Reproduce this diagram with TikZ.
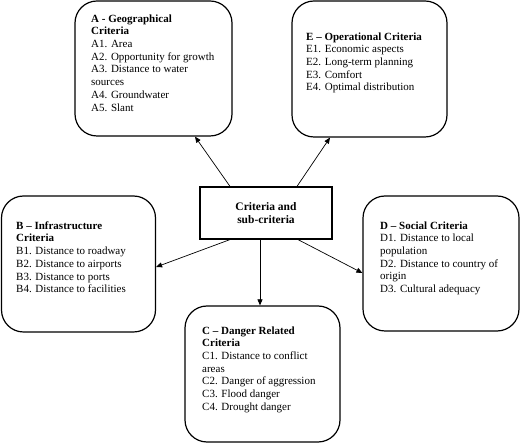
\documentclass[tikz,border=0pt]{standalone}
\usepackage{fontspec}
\setmainfont{Liberation Serif}
\usetikzlibrary{arrows.meta}
\begin{document}
\begin{tikzpicture}[x=1pt,y=-1pt,
 box/.style={draw, line width=1.2pt, rounded corners=22pt, inner sep=0pt},
 ctrbox/.style={draw, line width=1.2pt, inner sep=0pt, align=center, font=\fontsize{11.5}{13}\selectfont\bfseries},
 txt/.style={anchor=north west, align=left, inner sep=0pt, font=\fontsize{11}{12.7}\selectfont},
 conn/.style={line width=0.7pt, -{Triangle[length=6pt,width=5pt]}}]
\useasboundingbox (0,0) rectangle (520,443);
\node[box, minimum width=157pt, minimum height=135pt] (A) at (153.5,68.5) {};
\node[box, minimum width=155pt, minimum height=136pt] (E) at (369.5,69) {};
\node[box, minimum width=154pt, minimum height=136pt] (B) at (78.5,264) {};
\node[box, minimum width=156pt, minimum height=135pt] (D) at (441,263.5) {};
\node[box, minimum width=155pt, minimum height=136pt] (C) at (262.5,374) {};
\node[ctrbox, minimum width=132pt, minimum height=52pt] (ctr) at (266,213) {Criteria and\\sub-criteria};

\node[txt] (At) at (91,14.3) {\textbf{A - Geographical}\\\textbf{Criteria}\\A1. Area\\A2. Opportunity for growth\\A3. Distance to water\\sources\\A4. Groundwater\\A5. Slant};
\node[txt] (Et) at (306,32.3) {\textbf{E – Operational Criteria}\\E1. Economic aspects\\E2. Long-term planning\\E3. Comfort\\E4. Optimal distribution};
\node[txt] (Bt) at (16,221.3) {\textbf{B – Infrastructure}\\\textbf{Criteria}\\B1. Distance to roadway\\B2. Distance to airports\\B3. Distance to ports\\B4. Distance to facilities};
\node[txt] (Dt) at (380,221.3) {\textbf{D – Social Criteria}\\D1. Distance to local\\population\\D2. Distance to country of\\origin\\D3. Cultural adequacy};
\node[txt] (Ct) at (202,326.3) {\textbf{C – Danger Related}\\\textbf{Criteria}\\C1. Distance to conflict\\areas\\C2. Danger of aggression\\C3. Flood danger\\C4. Drought danger};

\draw[conn] ([xshift=-36pt]ctr.north) -- ([xshift=41.5pt]A.south);
\draw[conn] ([xshift=31pt]ctr.north) -- ([xshift=-39.5pt]E.south);
\draw[conn] ([xshift=-36pt]ctr.south) -- ([yshift=-3pt]B.east);
\draw[conn] ([xshift=32pt]ctr.south) -- ([yshift=-9.5pt]D.west);
\draw[conn] ([xshift=-6pt]ctr.south) -- ([xshift=-6pt]ctr.south |- C.north);
\end{tikzpicture}
\end{document}
